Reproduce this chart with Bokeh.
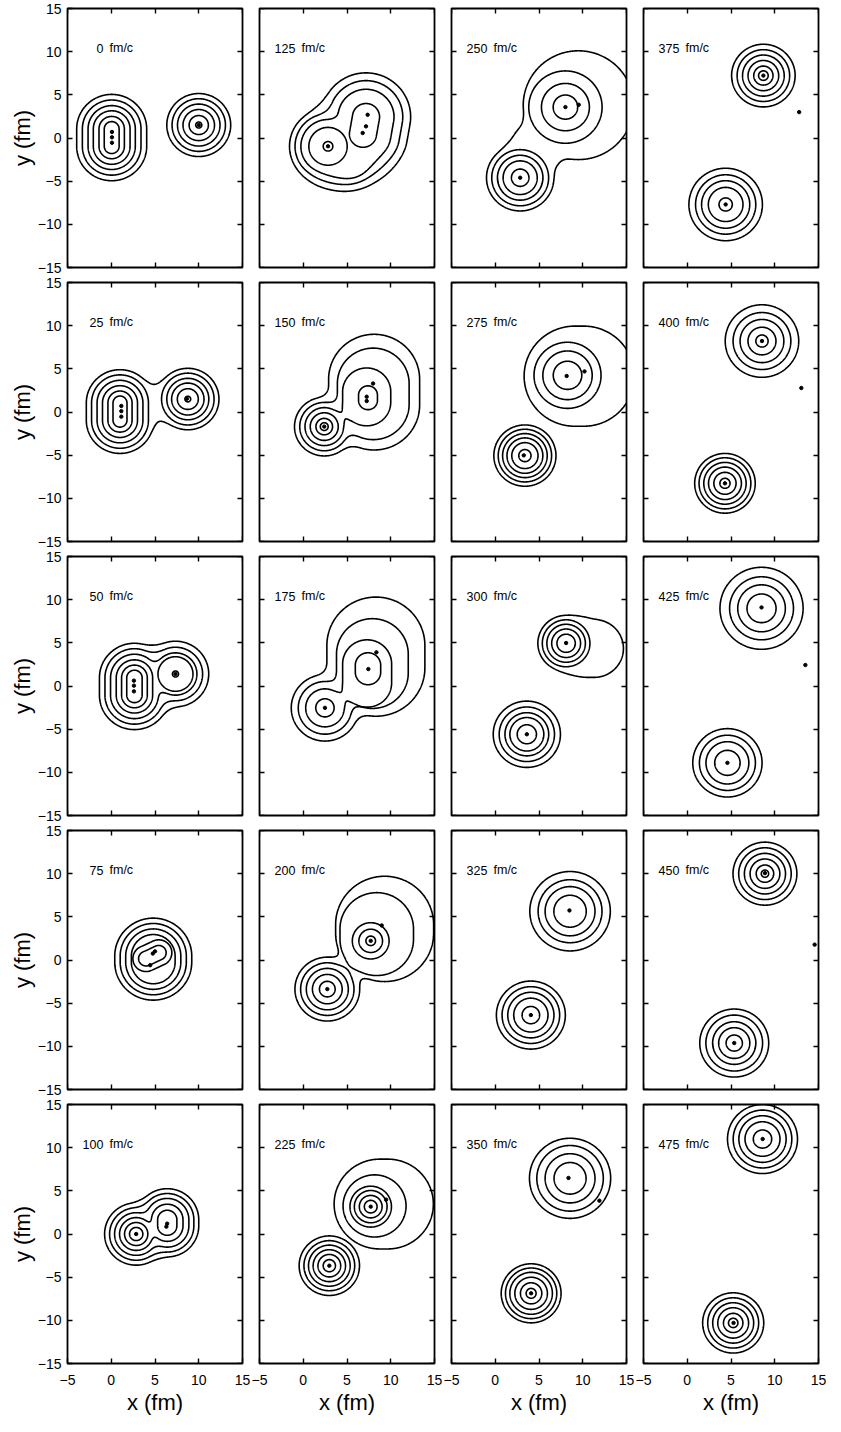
import numpy as np
import contourpy
from bokeh.plotting import figure
from bokeh.layouts import column, row
from bokeh.models import Range1d, LinearAxis, FixedTicker
from bokeh.core.properties import value
from bokeh.embed import file_html
from bokeh.resources import INLINE

# ---------------- data ----------------
times = [0, 25, 50, 75, 100, 125, 150, 175, 200, 225,
         250, 275, 300, 325, 350, 375, 400, 425, 450, 475]
x_ticks = [-5, 0, 5, 10, 15]
y_ticks = [-15, -10, -5, 0, 5, 10, 15]

# density "blobs": centre, half-length and angle of the core segment,
# first contour level, and radius of each contour level (fm)
blob_t = [0, 0, 25, 25, 50, 50, 75, 75, 100, 100,
          125, 125, 125, 150, 150, 150, 150, 150, 175, 175, 175, 175, 175,
          200, 200, 200, 200, 225, 225, 225, 225, 250, 250, 250, 250,
          275, 275, 275, 300, 300, 300, 325, 325, 350, 350,
          375, 375, 400, 400, 425, 425, 450, 450, 475, 475]
blob_x = [0.05, 10.0, 1.0, 8.75, 2.65, 7.34, 4.8, 4.7, 2.85, 6.4,
          2.83, 7.0, 5.0, 2.4, 8.1, 8.0, 7.25, 7.4, 2.48, 8.3, 7.9, 7.3, 7.4,
          2.75, 9.3, 8.4, 7.71, 2.98, 9.2, 8.15, 7.71, 2.85, 9.5, 8.02, 4.6,
          3.39, 9.6, 8.26, 8.1, 11.0, 3.61, 8.55, 4.07, 8.55, 4.1,
          8.7, 4.39, 8.54, 4.31, 8.49, 4.59, 8.88, 5.37, 8.6, 5.25]
blob_y = [0.05, 1.5, 0.05, 1.5, -0.05, 1.39, 0.1, 0.5, 0.0, 1.3,
          -0.96, 1.46, -1.5, -1.69, 2.3, 2.1, 1.75, 1.65, -2.53, 3.4, 2.6, 1.45, 2.0,
          -3.37, 3.6, 3.0, 2.22, -3.67, 3.47, 3.25, 3.17, -4.6, 3.8, 3.58, -1.0,
          -5.05, 4.15, 4.25, 4.95, 4.35, -5.59, 5.65, -6.38, 6.45, -6.87,
          7.23, -7.7, 8.22, -8.26, 9.0, -8.9, 10.0, -9.62, 11.0, -10.3]
blob_len = [1.0, 0, 1.0, 0, 1.0, 0, 0.35, 0.8, 0, 0.35,
            0, 1.0, 0, 0, 1.5, 1.2, 0.6, 0.3, 0, 1.3, 1.1, 1.1, 0.4,
            0, 0.5, 0.6, 0, 0, 0.47, 0, 0, 0, 0, 0, 0,
            0, 0.5, 0, 0, 0.3, 0, 0, 0, 0, 0,
            0, 0, 0, 0, 0, 0, 0, 0, 0, 0]
blob_ang = [90, 0, 90, 0, 90, 0, 90, 25, 0, 90,
            0, 80, 0, 0, 90, 90, 90, 90, 0, 90, 90, 90, 90,
            0, 90, 90, 0, 0, 0, 0, 0, 0, 0, 0, 0,
            0, 0, 0, 0, 0, 0, 0, 0, 0, 0,
            0, 0, 0, 0, 0, 0, 0, 0, 0, 0]
blob_lev = [1, 1, 1, 1, 1, 1, 1, 5, 1, 1,
            1, 1, 1, 1, 1, 2, 3, 4, 1, 1, 2, 3, 4,
            1, 1, 2, 3, 1, 1, 2, 3, 1, 1, 2, 1,
            1, 1, 2, 1, 1, 1, 1, 1, 1, 1,
            1, 1, 1, 1, 1, 1, 1, 1, 1, 1]
blob_r = [[4.0, 3.35, 2.7, 2.1, 1.45, 0.85], [3.65, 3.05, 2.43, 1.8, 1.1, 0.35],
          [3.85, 3.25, 2.62, 2.0, 1.38, 0.8], [3.56, 3.0, 2.4, 1.85, 1.2, 0.33],
          [4.0, 3.37, 2.73, 2.08, 1.47, 0.88], [3.8, 3.1, 2.45, 2.0, 0.35],
          [4.4, 3.78, 3.15, 2.5], [1.5, 0.85],
          [3.61, 3.04, 2.47, 1.9, 1.33, 0.76], [3.6, 3.04, 2.47, 1.8, 1.1],
          [4.4, 3.77, 3.1, 2.19, 0.55], [5.1, 4.2, 3.2, 1.55], [4.5, 3.85, 3.2],
          [3.4, 2.8, 2.2, 1.6, 0.95, 0.45], [5.2], [4.1], [2.75], [1.08],
          [3.85, 3.05, 2.2, 1.05], [5.6], [4.1], [2.8], [1.45],
          [3.7, 3.05, 2.4, 1.7, 0.9], [5.6], [4.2], [2.1, 1.35, 0.55],
          [3.45, 2.9, 2.38, 1.85, 1.3, 0.7], [5.2], [3.6], [2.37, 1.87, 1.3, 0.73],
          [3.85, 3.25, 2.6, 1.95, 1.0], [6.3], [4.19, 2.74, 1.4], [2.6],
          [3.55, 3.05, 2.55, 2.05, 1.5, 0.7], [5.8], [3.83, 2.82, 1.63],
          [3.23, 2.72, 2.2, 1.65, 1.05], [3.35], [3.84, 3.16, 2.5, 1.94, 1.1],
          [4.6, 3.65, 2.85, 1.85], [3.94, 3.29, 2.64, 1.96, 1.0],
          [4.64, 3.8, 2.85, 1.83], [3.42, 2.93, 2.43, 1.86, 1.22, 0.57],
          [3.63, 3.0, 2.38, 1.75, 1.1, 0.55], [4.2, 3.44, 2.75, 1.98, 0.76],
          [4.2, 3.3, 2.5, 1.6, 0.7], [3.46, 2.96, 2.42, 1.88, 1.27, 0.58],
          [4.75, 3.65, 2.72, 1.66], [3.96, 3.2, 2.45, 1.45],
          [3.65, 3.0, 2.35, 1.7, 1.0, 0.42], [3.94, 3.24, 2.47, 1.78, 0.93],
          [4.0, 3.35, 2.7, 2.0, 1.05], [3.49, 2.91, 2.34, 1.76, 1.11, 0.54]]

# neck smoothing (fm) for contour levels 1, 2, 3, ... of each panel
neck_k = [[0.3], [2.5, 0.6], [1.5, 1.5, 1.2], [0.5], [1.2, 1.2, 1.0, 0.8],
          [2.0, 1.5, 1.2], [1.5, 1.5, 1.5], [1.5, 1.5, 1.5], [1.5, 1.5, 1.0], [0.5],
          [2.0, 0.5], [0.5], [1.6], [0.3], [0.3],
          [0.3], [0.3], [0.3], [0.3], [0.3]]

# density maxima marks
dot_t = [0, 0, 0, 0, 25, 25, 25, 25, 50, 50, 50, 50, 75, 75, 75,
         100, 100, 100, 125, 125, 125, 125, 150, 150, 150, 150,
         175, 175, 175, 200, 200, 200, 225, 225, 225, 250, 250, 250,
         275, 275, 275, 300, 300, 325, 325, 350, 350, 350,
         375, 375, 375, 400, 400, 400, 425, 425, 425, 450, 450, 450, 475, 475]
dot_x = [0.08, 0.08, 0.08, 10.0, 1.15, 1.15, 1.15, 8.65, 2.59, 2.59, 2.59, 7.34,
         5.0, 4.75, 4.45, 2.85, 6.39, 6.3, 2.83, 7.36, 7.17, 6.79,
         2.4, 7.25, 7.25, 7.98, 2.48, 7.44, 8.36, 2.75, 7.71, 8.97,
         2.98, 7.71, 9.47, 2.85, 8.02, 9.54, 3.26, 8.16, 10.2,
         8.1, 3.61, 8.48, 4.07, 8.37, 4.1, 11.9, 8.7, 4.39, 12.79,
         8.54, 4.31, 13.04, 8.49, 4.59, 13.5, 8.88, 5.37, 14.56, 8.62, 5.29]
dot_y = [0.7, 0.08, -0.55, 1.5, 0.7, 0.1, -0.54, 1.54, 0.62, 0.04, -0.62, 1.39,
         1.0, 0.75, -0.6, 0.0, 1.2, 0.85, -0.96, 2.69, 1.35, 0.58,
         -1.69, 1.77, 1.27, 3.3, -2.53, 1.96, 3.9, -3.37, 2.22, 4.0,
         -3.67, 3.17, 3.98, -4.6, 3.58, 3.85, -5.02, 4.17, 4.7,
         4.98, -5.59, 5.74, -6.38, 6.49, -6.87, 3.86, 7.23, -7.7, 3.0,
         8.22, -8.26, 2.78, 9.1, -8.9, 2.43, 10.06, -9.62, 1.78, 11.0, -10.3]

# ---------------- field construction ----------------
gx = np.arange(-5.6, 15.6001, 0.06)
gy = np.arange(-15.6, 15.6001, 0.06)
GX, GY = np.meshgrid(gx, gy)


def seg_dist(cx, cy, half, ang):
    px, py = GX - cx, GY - cy
    if half <= 0:
        return np.hypot(px, py)
    ux, uy = np.cos(np.radians(ang)), np.sin(np.radians(ang))
    s = np.clip(px * ux + py * uy, -half, half)
    return np.hypot(px - s * ux, py - s * uy)


def smin(a, b, k):
    h = np.clip(0.5 + 0.5 * (b - a) / k, 0.0, 1.0)
    return b * (1 - h) + a * h - k * h * (1 - h)


def panel_lines(t, klist):
    idx = [i for i, bt in enumerate(blob_t) if bt == t]
    dist = {i: seg_dist(blob_x[i], blob_y[i], blob_len[i], blob_ang[i]) for i in idx}
    maxlev = max(blob_lev[i] + len(blob_r[i]) - 1 for i in idx)
    xs, ys = [], []
    for lev in range(1, maxlev + 1):
        k = klist[lev - 1] if lev - 1 < len(klist) else 0.3
        F = None
        for i in idx:
            j = lev - blob_lev[i]
            if 0 <= j < len(blob_r[i]):
                s = dist[i] - blob_r[i][j]
                F = s if F is None else smin(F, s, k)
        if F is None:
            continue
        gen = contourpy.contour_generator(gx, gy, F, line_type="Separate")
        for seg in gen.lines(0.0):
            xs.append(np.round(seg[:, 0], 3).tolist())
            ys.append(np.round(seg[:, 1], 3).tolist())
    return xs, ys


# ---------------- figures ----------------
FONT = "Liberation Sans"


def style_axis(ax, labels):
    ax.axis_line_color = None
    ax.major_tick_in = 5
    ax.major_tick_out = 0
    ax.minor_tick_in = 0
    ax.minor_tick_out = 0
    ax.major_tick_line_color = "black"
    ax.major_tick_line_width = 1.4
    if labels:
        ax.major_label_text_font = FONT
        ax.major_label_text_font_size = "14px"
        ax.major_label_text_color = "black"
        ax.axis_label_text_font = FONT
        ax.axis_label_text_font_size = "22px"
        ax.axis_label_text_font_style = "normal"
        ax.axis_label_text_color = "black"
    else:
        ax.major_label_text_color = None


grid_rows = []
for r in range(5):
    figs = []
    for c in range(4):
        pi = c * 5 + r
        t = times[pi]
        p = figure(frame_width=175, frame_height=259,
                   x_range=Range1d(-5, 15), y_range=Range1d(-15, 15),
                   x_axis_location=None, y_axis_location=None,
                   output_backend="svg", toolbar_location=None,
                   min_border_left=67 if c == 0 else 9, min_border_right=8,
                   min_border_top=8,
                   min_border_bottom=56 if r == 4 else 7,
                   background_fill_color="white", border_fill_color="white")
        p.grid.visible = False
        p.outline_line_color = "black"
        p.outline_line_width = 1.8
        p.outline_line_alpha = 1.0

        # axes: labelled ones take border space, others sit on the frame edge
        bl = r == 4
        xb = LinearAxis(ticker=FixedTicker(ticks=x_ticks),
                        axis_label="x (fm)" if bl else None,
                        major_label_standoff=11, axis_label_standoff=2)
        if not bl:
            xb.fixed_location = -15
        style_axis(xb, bl)
        p.add_layout(xb, "below")

        ll = c == 0
        yl = LinearAxis(ticker=FixedTicker(ticks=y_ticks),
                        axis_label="y (fm)" if ll else None,
                        major_label_standoff=6, axis_label_standoff=0)
        if not ll:
            yl.fixed_location = -5
        style_axis(yl, ll)
        p.add_layout(yl, "left")

        xa = LinearAxis(ticker=FixedTicker(ticks=x_ticks), fixed_location=15)
        style_axis(xa, False)
        p.add_layout(xa, "above")
        yr = LinearAxis(ticker=FixedTicker(ticks=y_ticks), fixed_location=15)
        style_axis(yr, False)
        p.add_layout(yr, "right")

        xs, ys = panel_lines(t, neck_k[pi])
        p.multi_line(xs, ys, line_color="black", line_width=1.6)

        dx = [x for x, dt in zip(dot_x, dot_t) if dt == t]
        dy = [y for y, dt in zip(dot_y, dot_t) if dt == t]
        p.scatter(dx, dy, size=3.4, color="black")

        p.text(x=[-0.9], y=[10.4], text=[str(t)], text_align="right",
               text_baseline="middle", text_font=value(FONT),
               text_font_size="12.5px", text_color="black")
        p.text(x=[-0.2], y=[10.4], text=["fm/c"], text_align="left",
               text_baseline="middle", text_font=value(FONT),
               text_font_size="12.5px", text_color="black")
        figs.append(p)
    grid_rows.append(row(*figs, spacing=0))

layout = column(*grid_rows, spacing=0)
open("out.html", "w").write(file_html(layout, INLINE))
